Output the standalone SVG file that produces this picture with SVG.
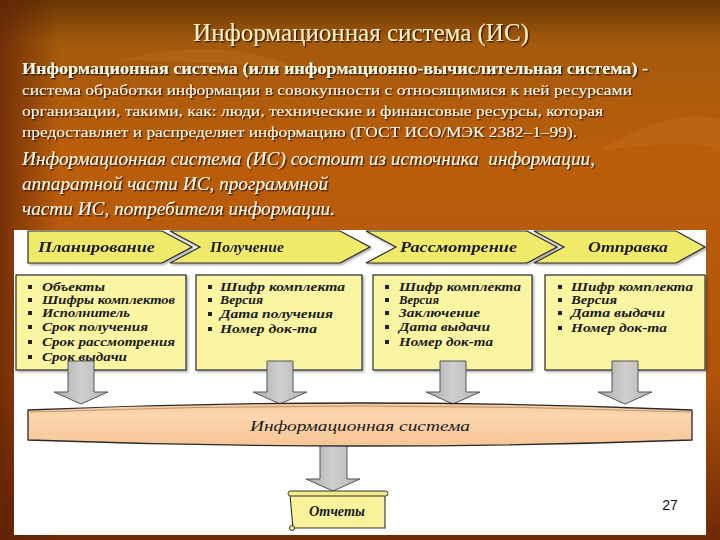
<svg xmlns="http://www.w3.org/2000/svg" width="720" height="540" viewBox="0 0 720 540">
<defs>
<linearGradient id="bg" x1="0" y1="0" x2="0" y2="1">
<stop offset="0" stop-color="#6a3806"/>
<stop offset="0.08" stop-color="#a45a0c"/>
<stop offset="0.3" stop-color="#bb5e0b"/>
<stop offset="0.7" stop-color="#b2530a"/>
<stop offset="1" stop-color="#6e2a05"/>
</linearGradient>
<linearGradient id="edgeL" x1="0" y1="0" x2="1" y2="0">
<stop offset="0" stop-color="#5a1e06" stop-opacity="0.7"/>
<stop offset="1" stop-color="#5a1e06" stop-opacity="0"/>
</linearGradient>
<linearGradient id="band" x1="0" y1="0" x2="0" y2="1">
<stop offset="0" stop-color="#f7c89a"/>
<stop offset="0.3" stop-color="#fcd6ae"/>
<stop offset="1" stop-color="#f6c597"/>
</linearGradient>
<linearGradient id="arrowG" x1="0" y1="0" x2="1" y2="0">
<stop offset="0" stop-color="#a9a9a9"/>
<stop offset="0.5" stop-color="#cfcfcf"/>
<stop offset="1" stop-color="#b3b3b3"/>
</linearGradient>
<filter id="sh" x="-5%" y="-30%" width="110%" height="160%">
<feDropShadow dx="1.3" dy="1.3" stdDeviation="0.4" flood-color="#2a1000" flood-opacity="0.9"/>
</filter>
<filter id="bsh" x="-5%" y="-5%" width="112%" height="115%">
<feDropShadow dx="1.5" dy="1.5" stdDeviation="0.8" flood-color="#000" flood-opacity="0.35"/>
</filter>
</defs>
<style>
.title{font-family:'Liberation Serif','Times New Roman',Times,serif;font-size:25px;fill:#fff0c0}
.p1{font-family:'Liberation Serif','Times New Roman',Times,serif;font-size:17px;font-weight:bold;fill:#fffbe8}
.p2{font-family:'Liberation Serif','Times New Roman',Times,serif;font-size:15.5px;fill:#fffbe8}
.it{font-family:'Liberation Serif','Times New Roman',Times,serif;font-size:18px;font-style:italic;fill:#fffbe8}
.chev{fill:#f0ea6a;stroke:#2c2c2c;stroke-width:1.2}
.box{fill:#faf5a2;stroke:#2c2c2c;stroke-width:1.2}
.lab{font-family:'Liberation Serif','Times New Roman',Times,serif;font-size:15px;font-weight:700;font-style:italic;fill:#1a1a1a}
.li{font-family:'Liberation Serif','Times New Roman',Times,serif;font-size:11.5px;font-weight:700;font-style:italic;fill:#1a1a1a}
.bul{fill:#222}
.arr{fill:url(#arrowG);stroke:#555;stroke-width:1}
.num{font-family:'Liberation Sans',Arial,sans-serif;font-size:14px;fill:#111}
</style>
<rect width="720" height="540" fill="url(#bg)"/>
<rect width="60" height="540" fill="url(#edgeL)"/>
<path d="M120,60 C200,40 260,50 300,70 C250,62 180,62 120,60 Z" fill="#d07a2a" opacity="0.25"/>
<path d="M600,150 C650,120 690,110 720,120 L720,150 C690,140 650,145 600,150 Z" fill="#d07a2a" opacity="0.25"/>
<text class="title" x="361" y="41" text-anchor="middle" filter="url(#sh)">Информационная система (ИС)</text>
<g filter="url(#sh)">
<text class="p1" x="22" y="74" textLength="626" lengthAdjust="spacingAndGlyphs">Информационная система (или информационно-вычислительная система) -</text>
<text class="p2" x="22" y="95" textLength="610" lengthAdjust="spacingAndGlyphs">система обработки информации в совокупности с относящимися к ней ресурсами</text>
<text class="p2" x="22" y="116" textLength="581" lengthAdjust="spacingAndGlyphs">организации, такими, как: люди, технические и финансовые ресурсы, которая</text>
<text class="p2" x="22" y="137" textLength="555" lengthAdjust="spacingAndGlyphs">предоставляет и распределяет информацию (ГОСТ ИСО/МЭК 2382–1–99).</text>
<text class="it" x="22" y="165" textLength="573" lengthAdjust="spacingAndGlyphs" xml:space="preserve">Информационная система (ИС) состоит из источника  информации,</text>
<text class="it" x="22" y="190" textLength="306" lengthAdjust="spacingAndGlyphs">аппаратной части ИС, программной</text>
<text class="it" x="22" y="215" textLength="313" lengthAdjust="spacingAndGlyphs">части ИС, потребителя информации.</text>
</g>
<rect x="14" y="230" width="692" height="305" fill="#ffffff"/>

<g id="chevron-planning" filter="url(#bsh)">
<polygon class="chev" points="28,231 162,231 192,247 162,263 28,263"/>
<text class="lab" x="38" y="252" textLength="117" lengthAdjust="spacingAndGlyphs">Планирование</text>
</g>
<g id="chevron-receive" filter="url(#bsh)">
<polygon class="chev" points="170,231 340,231 370,247 340,263 170,263 200,247"/>
<text class="lab" x="210" y="252" textLength="74" lengthAdjust="spacingAndGlyphs" font-weight="700">Получение</text>
</g>
<g id="chevron-review" filter="url(#bsh)">
<polygon class="chev" points="366,231 527,231 557,247 527,263 366,263 396,247"/>
<text class="lab" x="400" y="252" textLength="117" lengthAdjust="spacingAndGlyphs">Рассмотрение</text>
</g>
<g id="chevron-send" filter="url(#bsh)">
<polygon class="chev" points="534,231 676,231 705,247 676,263 534,263 564,247"/>
<text class="lab" x="588" y="252" textLength="80" lengthAdjust="spacingAndGlyphs">Отправка</text>
</g>

<g id="box-planning">
<rect class="box" x="16" y="275" width="170" height="95" filter="url(#bsh)"/>
<rect class="bul" x="28" y="285" width="4" height="4"/>
<rect class="bul" x="28" y="298" width="4" height="4"/>
<rect class="bul" x="28" y="311" width="4" height="4"/>
<rect class="bul" x="28" y="325" width="4" height="4"/>
<rect class="bul" x="28" y="340" width="4" height="4"/>
<rect class="bul" x="28" y="355" width="4" height="4"/>
<text class="li" x="42" y="291" textLength="63" lengthAdjust="spacingAndGlyphs">Объекты</text>
<text class="li" x="42" y="304" textLength="133" lengthAdjust="spacingAndGlyphs">Шифры комплектов</text>
<text class="li" x="42" y="317" textLength="88" lengthAdjust="spacingAndGlyphs">Исполнитель</text>
<text class="li" x="42" y="331" textLength="106" lengthAdjust="spacingAndGlyphs">Срок получения</text>
<text class="li" x="42" y="346" textLength="133" lengthAdjust="spacingAndGlyphs">Срок рассмотрения</text>
<text class="li" x="42" y="361" textLength="85" lengthAdjust="spacingAndGlyphs">Срок выдачи</text>
</g>
<g id="box-receive">
<rect class="box" x="196" y="275" width="166" height="95" filter="url(#bsh)"/>
<rect class="bul" x="208" y="285" width="4" height="4"/>
<rect class="bul" x="208" y="298" width="4" height="4"/>
<rect class="bul" x="208" y="312" width="4" height="4"/>
<rect class="bul" x="208" y="327" width="4" height="4"/>
<text class="li" x="220" y="291" textLength="125" lengthAdjust="spacingAndGlyphs">Шифр комплекта</text>
<text class="li" x="220" y="304" textLength="43" lengthAdjust="spacingAndGlyphs">Версия</text>
<text class="li" x="220" y="318" textLength="113" lengthAdjust="spacingAndGlyphs">Дата получения</text>
<text class="li" x="220" y="333" textLength="97" lengthAdjust="spacingAndGlyphs">Номер док-та</text>
</g>
<g id="box-review">
<rect class="box" x="373" y="275" width="159" height="95" filter="url(#bsh)"/>
<rect class="bul" x="385" y="285" width="4" height="4"/>
<rect class="bul" x="385" y="298" width="4" height="4"/>
<rect class="bul" x="385" y="311" width="4" height="4"/>
<rect class="bul" x="385" y="325" width="4" height="4"/>
<rect class="bul" x="385" y="340" width="4" height="4"/>
<text class="li" x="399" y="291" textLength="122" lengthAdjust="spacingAndGlyphs">Шифр комплекта</text>
<text class="li" x="399" y="304" textLength="40" lengthAdjust="spacingAndGlyphs">Версия</text>
<text class="li" x="399" y="317" textLength="81" lengthAdjust="spacingAndGlyphs">Заключение</text>
<text class="li" x="399" y="331" textLength="91" lengthAdjust="spacingAndGlyphs">Дата выдачи</text>
<text class="li" x="399" y="346" textLength="94" lengthAdjust="spacingAndGlyphs">Номер док-та</text>
</g>
<g id="box-send">
<rect class="box" x="545" y="275" width="160" height="95" filter="url(#bsh)"/>
<rect class="bul" x="558" y="285" width="4" height="4"/>
<rect class="bul" x="558" y="298" width="4" height="4"/>
<rect class="bul" x="558" y="311" width="4" height="4"/>
<rect class="bul" x="558" y="326" width="4" height="4"/>
<text class="li" x="571" y="291" textLength="122" lengthAdjust="spacingAndGlyphs">Шифр комплекта</text>
<text class="li" x="571" y="304" textLength="46" lengthAdjust="spacingAndGlyphs">Версия</text>
<text class="li" x="571" y="317" textLength="94" lengthAdjust="spacingAndGlyphs">Дата выдачи</text>
<text class="li" x="571" y="332" textLength="96" lengthAdjust="spacingAndGlyphs">Номер док-та</text>
</g>

<g id="connectors">
<polygon class="arr" points="68,361 94,361 94,392 108,392 81,404 54,392 68,392"/>
<polygon class="arr" points="267,361 293,361 293,392 307,392 280,404 253,392 267,392"/>
<polygon class="arr" points="440,361 466,361 466,392 480,392 453,404 426,392 440,392"/>
<polygon class="arr" points="612,361 638,361 638,392 652,392 625,404 598,392 612,392"/>
<polygon class="arr" points="320,443 347,443 347,479 360,479 333,491 306,479 320,479"/>
</g>

<g id="information-system">
<path d="M28,410 Q360,396 692,410 L692,440 Q360,452 28,440 Z" fill="url(#band)" stroke="#2a2a2a" stroke-width="1.3"/>
<path d="M30,412 Q360,400 690,412" fill="none" stroke="#8a6a50" stroke-width="0.8" opacity="0.7"/>
<text class="lab" x="360" y="431" text-anchor="middle" textLength="220" lengthAdjust="spacingAndGlyphs" style="font-weight:normal">Информационная система</text>
</g>

<g id="reports">
<path d="M290,495 L385,495 L385,528 L293,528 Z" fill="#f8f29a" stroke="#333" stroke-width="1.1"/>
<rect x="288" y="491" width="100" height="5" rx="2.5" fill="#f4ec88" stroke="#333" stroke-width="1"/>
<circle cx="292" cy="528" r="2.5" fill="#f4ec88" stroke="#333" stroke-width="1"/>
<text class="lab" x="337" y="516" text-anchor="middle" textLength="56" lengthAdjust="spacingAndGlyphs">Отчеты</text>
</g>

<text class="num" x="670" y="510" text-anchor="middle">27</text>
</svg>
